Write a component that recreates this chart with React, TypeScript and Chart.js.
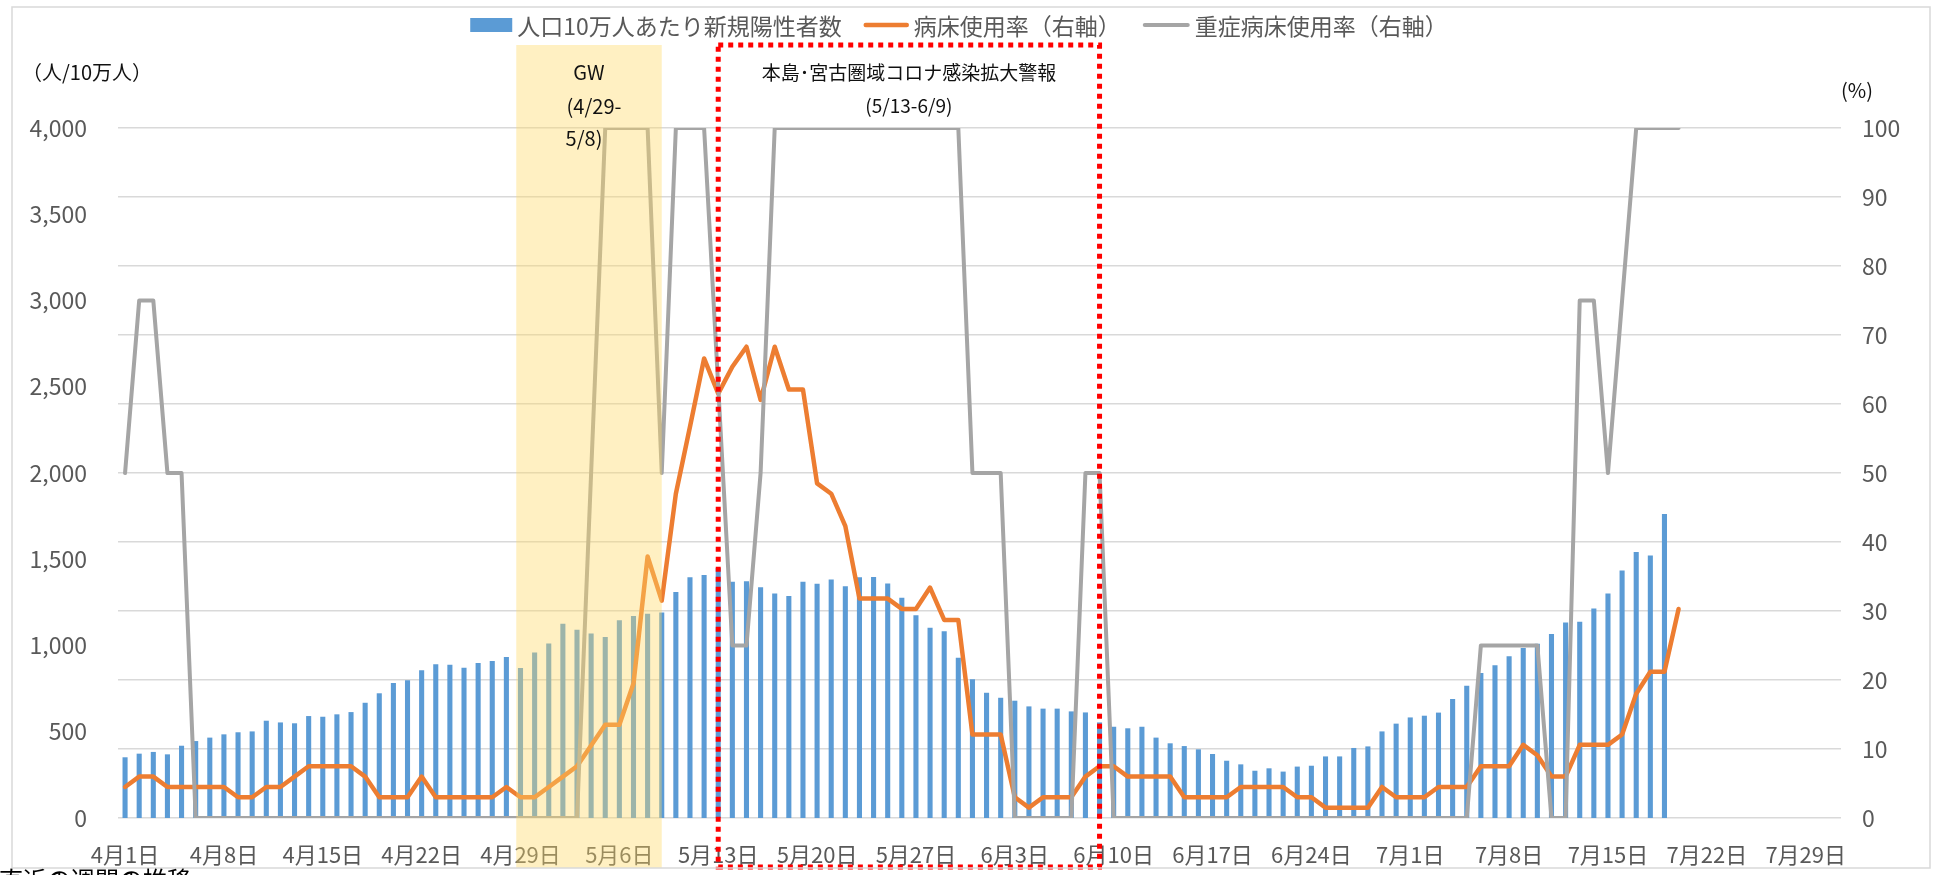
import React, { useEffect, useRef } from "react";
import { Chart, registerables } from "chart.js";

Chart.register(...registerables);

// ---------- categories (4/1 .. 7/31) ----------
const MONTH_LENGTHS: [number, number][] = [[4, 30], [5, 31], [6, 30], [7, 31]];
const CATEGORIES: string[] = MONTH_LENGTHS.flatMap(([m, n]) =>
  Array.from({ length: n }, (_, i) => `${m}月${i + 1}日`)
);
const TICK_EVERY = 7;
const TICK_LABELS = [
  "4月1日", "4月8日", "4月15日", "4月22日", "4月29日", "5月6日", "5月13日", "5月20日", "5月27日",
  "6月3日", "6月10日", "6月17日", "6月24日", "7月1日", "7月8日", "7月15日", "7月22日", "7月29日",
];

// ---------- series ----------
const SERIES_LABELS = ["人口10万人あたり新規陽性者数", "病床使用率（右軸）", "重症病床使用率（右軸）"];

// 人口10万人あたり新規陽性者数 (4/1 .. 7/19)
const NEW_CASES = [
  352, 373, 383, 369, 419, 446, 466, 485, 497, 502,
  564, 554, 549, 591, 587, 601, 614, 668, 723, 782,
  798, 856, 891, 889, 871, 898, 910, 933, 869, 960,
  1011, 1126, 1092, 1070, 1049, 1146, 1171, 1184, 1192, 1310,
  1395, 1408, 1450, 1370, 1372, 1337, 1302, 1287, 1370, 1358,
  1383, 1343, 1395, 1397, 1360, 1277, 1175, 1103, 1082, 929,
  804, 726, 697, 680, 647, 634, 634, 618, 612, 554,
  529, 520, 529, 466, 433, 417, 398, 371, 332, 311,
  274, 288, 269, 298, 303, 357, 357, 406, 415, 502,
  547, 583, 593, 611, 690, 767, 840, 885, 937, 985,
  1010, 1066, 1134, 1138, 1215, 1302, 1435, 1542, 1522, 1762,
];

// 病床使用率 % (4/1 .. 7/20)
const BED_RATE = [
  4.5, 6, 6, 4.5, 4.5, 4.5, 4.5, 4.5, 3, 3,
  4.5, 4.5, 6, 7.5, 7.5, 7.5, 7.5, 6, 3, 3,
  3, 6, 3, 3, 3, 3, 3, 4.5, 3, 3,
  4.5, 6, 7.5, 10.5, 13.5, 13.5, 19.5, 37.9, 31.5, 47,
  56.7, 66.6, 61.5, 65.4, 68.3, 60.6, 68.3, 62.1, 62.1, 48.5,
  47, 42.3, 31.8, 31.8, 31.8, 30.3, 30.3, 33.4, 28.7, 28.7,
  12.1, 12.1, 12.1, 3, 1.5, 3, 3, 3, 6, 7.5,
  7.5, 6, 6, 6, 6, 3, 3, 3, 3, 4.5,
  4.5, 4.5, 4.5, 3, 3, 1.5, 1.5, 1.5, 1.5, 4.5,
  3, 3, 3, 4.5, 4.5, 4.5, 7.5, 7.5, 7.5, 10.6,
  9.1, 6, 6, 10.6, 10.6, 10.6, 12.1, 18, 21.2, 21.2,
  30.3,
];

// 重症病床使用率 % (4/1 .. 7/20)
const SEVERE_RATE = [
  50, 75, 75, 50, 50, 0, 0, 0, 0, 0,
  0, 0, 0, 0, 0, 0, 0, 0, 0, 0,
  0, 0, 0, 0, 0, 0, 0, 0, 0, 0,
  0, 0, 0, 50, 100, 100, 100, 100, 50, 100,
  100, 100, 62.5, 25, 25, 50, 100, 100, 100, 100,
  100, 100, 100, 100, 100, 100, 100, 100, 100, 100,
  50, 50, 50, 0, 0, 0, 0, 0, 50, 50,
  0, 0, 0, 0, 0, 0, 0, 0, 0, 0,
  0, 0, 0, 0, 0, 0, 0, 0, 0, 0,
  0, 0, 0, 0, 0, 0, 25, 25, 25, 25,
  25, 0, 0, 75, 75, 50, 75, 100, 100, 100,
  100,
];

// ---------- annotations ----------
const GW_SPAN = [27.7, 38.0]; // category positions
const GW_TEXT = ["GW", "(4/29-", "5/8)"];
const ALERT_SPAN = [42, 69]; // 5/13 .. 6/9
const ALERT_TEXT = ["本島･宮古圏域コロナ感染拡大警報", "(5/13-6/9)"];
const LEFT_UNIT = "（人/10万人）";
const RIGHT_UNIT = "(%)";
const FOOTER_TEXT = "直近の週間の推移";

// ---------- styles ----------
const FONT = '"Noto Sans CJK JP", "Noto Sans", sans-serif';
const BLUE = "#5B9BD5";
const ORANGE = "#ED7D31";
const GRAY = "#A5A5A5";
const TEXT = "#595959";
const GRID = "#D9D9D9";
const W = 1933;
const H = 875;

const overlayPlugin = {
  id: "overlay",
  afterDraw(chart: any) {
    const { ctx, scales } = chart;
    const xs = scales.x;
    const p0 = xs.getPixelForValue(0);
    const step = xs.getPixelForValue(1) - p0;
    const px = (k: number) => p0 + k * step;
    ctx.save();

    // GW band
    const g0 = px(GW_SPAN[0]);
    const g1 = px(GW_SPAN[1]);
    ctx.fillStyle = "rgba(255,217,102,0.40)";
    ctx.fillRect(g0, 45, g1 - g0, 823);
    const gc = (g0 + g1) / 2;
    ctx.fillStyle = "#111";
    ctx.font = `20px ${FONT}`;
    ctx.textAlign = "center";
    ctx.textBaseline = "middle";
    ctx.fillText(GW_TEXT[0], gc, 72);
    ctx.fillText(GW_TEXT[1], gc + 5, 106);
    ctx.fillText(GW_TEXT[2], gc - 5, 138);

    // alert box
    const r0 = px(ALERT_SPAN[0]);
    const r1 = px(ALERT_SPAN[1]);
    ctx.strokeStyle = "#FF0000";
    ctx.lineWidth = 5;
    ctx.setLineDash([5, 5]);
    ctx.strokeRect(r0, 45, r1 - r0, 822);
    ctx.setLineDash([]);
    const rc = (r0 + r1) / 2;
    ctx.fillStyle = "#111";
    ctx.font = `19px ${FONT}`;
    ctx.fillText(ALERT_TEXT[0], rc, 73);
    ctx.fillText(ALERT_TEXT[1], rc, 106);

    // unit labels
    ctx.font = `20px ${FONT}`;
    ctx.textAlign = "left";
    ctx.fillText(LEFT_UNIT, 22, 72);
    ctx.textAlign = "center";
    ctx.fillText(RIGHT_UNIT, 1857, 90);

    // legend
    ctx.font = `23px ${FONT}`;
    ctx.textAlign = "left";
    ctx.textBaseline = "middle";
    const ds = chart.data.datasets;
    const markerW = [42, 45, 47];
    const gapAfterMarker = 5;
    const gapBetween = 22;
    const widths = ds.map((d: any, i: number) => markerW[i] + gapAfterMarker + ctx.measureText(d.label).width);
    const total = widths.reduce((a: number, b: number) => a + b, 0) + gapBetween * (ds.length - 1);
    let lx = 959 - total / 2;
    const ly = 25;
    ds.forEach((d: any, i: number) => {
      if (d.type === "bar") {
        ctx.fillStyle = d.backgroundColor;
        ctx.fillRect(lx, ly - 7, markerW[i], 14);
      } else {
        ctx.strokeStyle = d.borderColor;
        ctx.lineWidth = d.borderWidth;
        ctx.lineCap = "round";
        ctx.beginPath();
        ctx.moveTo(lx + 2, ly);
        ctx.lineTo(lx + markerW[i] - 2, ly);
        ctx.stroke();
      }
      ctx.fillStyle = TEXT;
      ctx.fillText(d.label, lx + markerW[i] + gapAfterMarker, ly + 1);
      lx += widths[i] + gapBetween;
    });

    // outer frame
    ctx.strokeStyle = GRID;
    ctx.lineWidth = 1.5;
    ctx.strokeRect(12, 7, 1918, 861);

    // footer (cut off)
    ctx.fillStyle = "#000";
    ctx.font = `24px ${FONT}`;
    ctx.textAlign = "left";
    ctx.textBaseline = "top";
    ctx.fillText(FOOTER_TEXT, -1, 868);

    ctx.restore();
  },
};

export default function App() {
  const ref = useRef<HTMLCanvasElement>(null);

  useEffect(() => {
    const canvas = ref.current;
    if (!canvas) return;
    const chart = new Chart(canvas, {
      type: "bar",
      data: {
        labels: CATEGORIES,
        datasets: [
          {
            type: "bar",
            label: SERIES_LABELS[0],
            data: NEW_CASES,
            backgroundColor: BLUE,
            yAxisID: "y",
            order: 3,
            barPercentage: 0.36,
            categoryPercentage: 1,
          },
          {
            type: "line",
            label: SERIES_LABELS[1],
            data: BED_RATE,
            borderColor: ORANGE,
            backgroundColor: ORANGE,
            borderWidth: 4.5,
            pointRadius: 0,
            tension: 0,
            yAxisID: "y1",
            order: 2,
            borderJoinStyle: "round",
            borderCapStyle: "round",
          },
          {
            type: "line",
            label: SERIES_LABELS[2],
            data: SEVERE_RATE,
            borderColor: GRAY,
            backgroundColor: GRAY,
            borderWidth: 4,
            pointRadius: 0,
            tension: 0,
            yAxisID: "y1",
            order: 1,
            borderJoinStyle: "round",
            borderCapStyle: "round",
          },
        ] as any,
      },
      options: {
        responsive: false,
        animation: false,
        layout: { padding: { top: 128, left: 0, right: 0, bottom: 0 } },
        plugins: { legend: { display: false }, tooltip: { enabled: false } },
        scales: {
          x: {
            offset: true,
            grid: { display: false, drawTicks: false },
            border: { display: false },
            ticks: {
              autoSkip: false,
              maxRotation: 0,
              minRotation: 0,
              padding: 23,
              color: TEXT,
              font: { family: FONT, size: 22 },
              callback: (_v: any, i: number) => (i % TICK_EVERY === 0 ? TICK_LABELS[i / TICK_EVERY] : ""),
            },
            afterFit: (s: any) => {
              s.height = 57;
            },
          },
          y: {
            position: "left",
            min: 0,
            max: 4000,
            grid: { display: false, drawTicks: false },
            border: { display: false },
            ticks: {
              stepSize: 500,
              padding: 31,
              color: TEXT,
              font: { family: FONT, size: 23 },
              callback: (v: any) => Number(v).toLocaleString("en-US"),
            },
            afterFit: (s: any) => {
              s.width = 118;
            },
          },
          y1: {
            position: "right",
            min: 0,
            max: 100,
            grid: { color: GRID, lineWidth: 1.5, drawTicks: false },
            border: { display: false },
            ticks: {
              stepSize: 10,
              padding: 21,
              color: TEXT,
              font: { family: FONT, size: 23 },
            },
            afterFit: (s: any) => {
              s.width = 92;
            },
          },
        },
      } as any,
      plugins: [overlayPlugin],
    });
    return () => chart.destroy();
  }, []);

  return (
    <div style={{ position: "fixed", left: 0, top: 0, width: W, height: H, background: "#fff" }}>
      <canvas ref={ref} width={W} height={H} style={{ display: "block", width: W, height: H }} />
    </div>
  );
}
